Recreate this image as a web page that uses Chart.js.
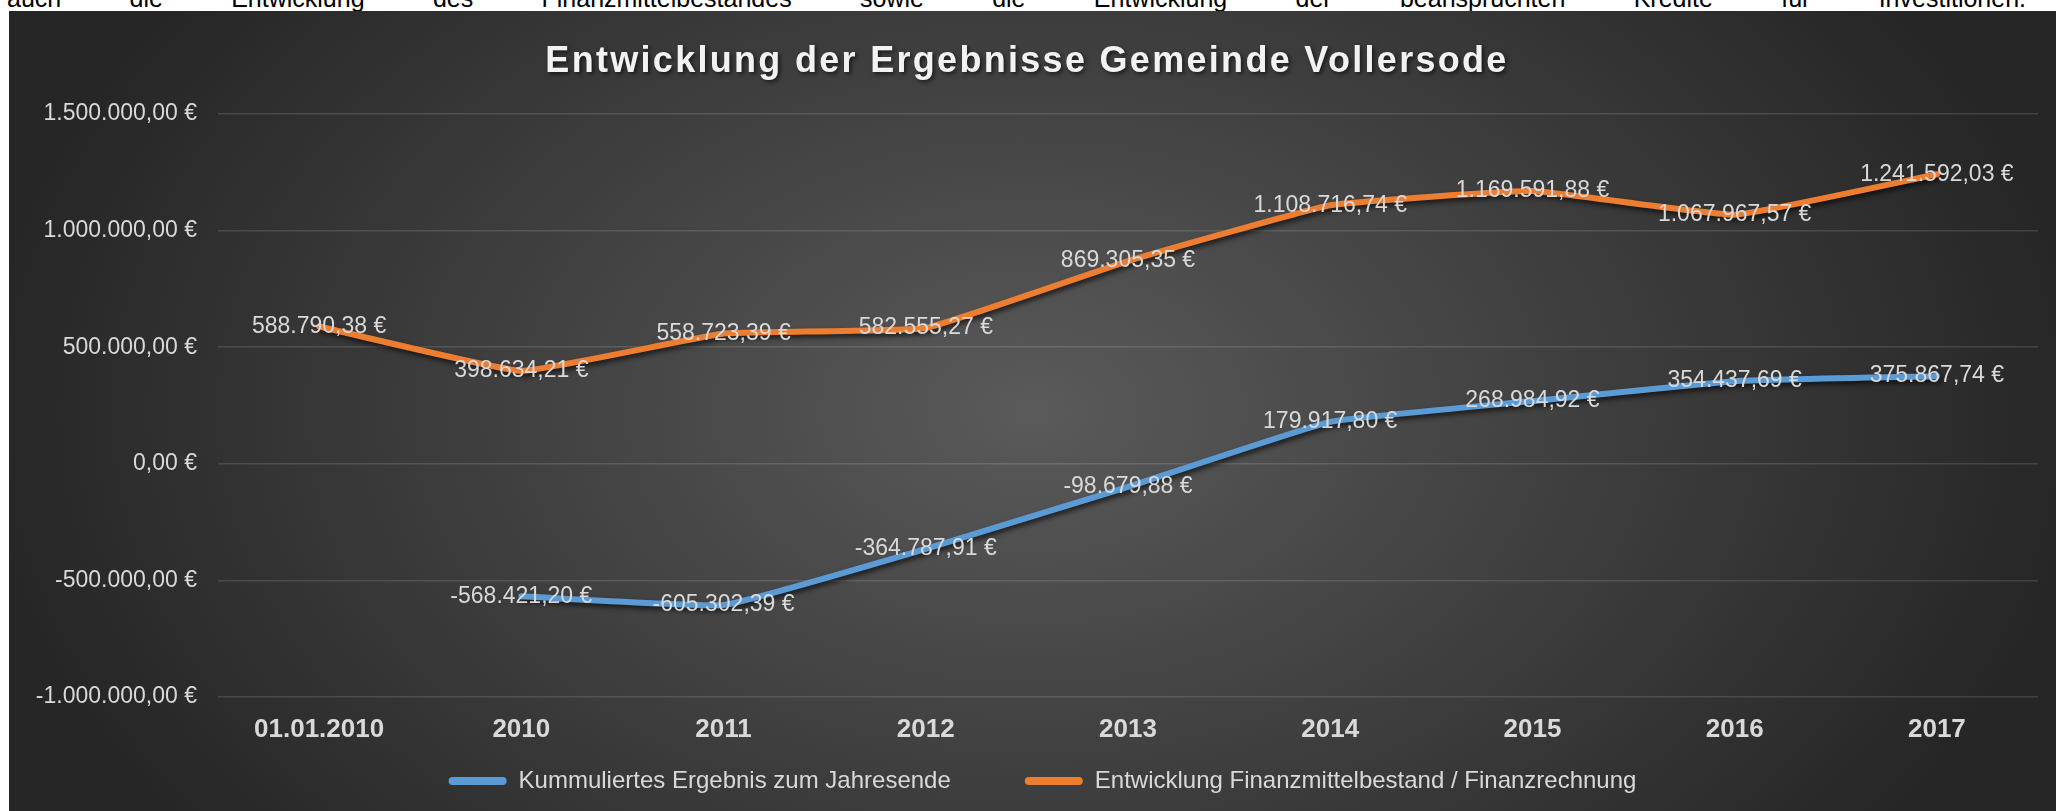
<!DOCTYPE html>
<html>
<head>
<meta charset="utf-8">
<script src="https://cdn.jsdelivr.net/npm/chart.js@4.4.1/dist/chart.umd.min.js"></script>
<style>
html, body { margin: 0; padding: 0; width: 2056px; height: 811px; overflow: hidden; background: #fff; }
#intro {
  position: absolute; left: 7px; top: -14px; width: 2019px;
  font: 25px/25px 'Liberation Sans', Arial, sans-serif; color: #000;
  text-align: justify; text-align-last: justify;
}
#box {
  position: absolute; left: 9px; top: 11px; width: 2047px; height: 800px;
  background: radial-gradient(ellipse 1050px 700px at 50% 50%, #5a5a5a 0%, #262626 100%);
}
#chart { position: absolute; left: 0; top: 0; }
</style>
</head>
<body>
<div id="intro">auch die Entwicklung des Finanzmittelbestandes sowie die Entwicklung der beanspruchten Kredite für Investitionen.</div>
<div id="box"><canvas id="chart" width="2067" height="800"></canvas></div>
<script>
const titleText = 'Entwicklung der Ergebnisse Gemeinde Vollersode';
const categories = ['01.01.2010', '2010', '2011', '2012', '2013', '2014', '2015', '2016', '2017'];
const ergebnis = [null, -568421.20, -605302.39, -364787.91, -98679.88, 179917.80, 268984.92, 354437.69, 375867.74];
const finanzmittel = [588790.38, 398634.21, 558723.39, 582555.27, 869305.35, 1108716.74, 1169591.88, 1067967.57, 1241592.03];
const yTicks = [-1000000, -500000, 0, 500000, 1000000, 1500000];

const textColor = '#d9d9d9';
const fontFamily = "'Liberation Sans', Arial, sans-serif";

// 1234567.8 -> "1.234.567,80 €"
function euro(v) {
  const neg = v < 0;
  const parts = Math.abs(v).toFixed(2).split('.');
  const int = parts[0].replace(/\B(?=(\d{3})+(?!\d))/g, '.');
  return (neg ? '-' : '') + int + ',' + parts[1] + ' €';
}

// title with letter spacing + shadow
const titlePlugin = {
  id: 'titel',
  afterDraw(chart) {
    const ctx = chart.ctx;
    ctx.save();
    ctx.font = 'bold 36px ' + fontFamily;
    ctx.letterSpacing = '2.3px';
    ctx.fillStyle = '#f2f2f2';
    ctx.textAlign = 'center';
    ctx.textBaseline = 'alphabetic';
    ctx.shadowColor = 'rgba(0,0,0,0.6)';
    ctx.shadowBlur = 4;
    ctx.shadowOffsetX = 2;
    ctx.shadowOffsetY = 2;
    ctx.fillText(titleText, 1018, 61);
    ctx.restore();
  }
};

// drop shadow under the lines
const shadowPlugin = {
  id: 'linienSchatten',
  beforeDatasetDraw(chart) {
    const ctx = chart.ctx;
    ctx.save();
    ctx.shadowColor = 'rgba(0,0,0,0.65)';
    ctx.shadowBlur = 5;
    ctx.shadowOffsetX = 2;
    ctx.shadowOffsetY = 3;
  },
  afterDatasetDraw(chart) {
    chart.ctx.restore();
  }
};

// value labels centred on the points
const labelPlugin = {
  id: 'werte',
  afterDatasetsDraw(chart) {
    const ctx = chart.ctx;
    ctx.save();
    ctx.font = '23px ' + fontFamily;
    ctx.fillStyle = textColor;
    ctx.textAlign = 'center';
    ctx.textBaseline = 'middle';
    chart.data.datasets.forEach((ds, i) => {
      const meta = chart.getDatasetMeta(i);
      meta.data.forEach((pt, j) => {
        const v = ds.data[j];
        if (v === null || v === undefined) return;
        ctx.fillText(euro(v), pt.x, pt.y);
      });
    });
    ctx.restore();
  }
};

const chart = new Chart(document.getElementById('chart'), {
  type: 'line',
  data: {
    labels: categories,
    datasets: [{
      label: 'Kummuliertes Ergebnis zum Jahresende',
      data: ergebnis,
      borderColor: '#5b9bd5',
      backgroundColor: '#5b9bd5',
      borderWidth: 6,
      pointRadius: 0,
      tension: 0.1,
      borderJoinStyle: 'round',
      borderCapStyle: 'round'
    }, {
      label: 'Entwicklung Finanzmittelbestand / Finanzrechnung',
      data: finanzmittel,
      borderColor: '#ed7d31',
      backgroundColor: '#ed7d31',
      borderWidth: 6,
      pointRadius: 0,
      tension: 0.1,
      borderJoinStyle: 'round',
      borderCapStyle: 'round'
    }]
  },
  options: {
    responsive: false,
    animation: false,
    layout: { padding: { top: 103, right: 0, left: 0, bottom: 8 } },
    scales: {
      x: {
        offset: true,
        grid: { display: false, drawTicks: false },
        border: { display: false },
        ticks: {
          color: textColor,
          padding: 17,
          maxRotation: 0,
          autoSkip: false,
          font: { family: fontFamily, size: 26, weight: 'bold' }
        },
        afterFit(scale) { scale.height = 46; }
      },
      y: {
        min: yTicks[0],
        max: yTicks[yTicks.length - 1],
        grid: { color: 'rgba(255,255,255,0.13)', lineWidth: 1.5, drawTicks: false },
        border: { display: false },
        ticks: {
          stepSize: yTicks[1] - yTicks[0],
          color: textColor,
          padding: 21,
          font: { family: fontFamily, size: 23 },
          callback: v => euro(v)
        },
        afterFit(scale) { scale.width = 209; }
      },
      // empty right margin (keeps the legend centred on the whole box)
      rand: {
        position: 'right',
        grid: { display: false, drawTicks: false },
        border: { display: false },
        ticks: { display: false },
        afterFit(scale) { scale.width = 38; }
      }
    },
    plugins: {
      title: { display: false },
      tooltip: { enabled: false },
      legend: {
        position: 'bottom',
        labels: {
          color: textColor,
          font: { family: fontFamily, size: 24 },
          boxWidth: 58,
          boxHeight: 8,
          padding: 26,
          useBorderRadius: true,
          borderRadius: 4,
          generateLabels(c) {
            const items = Chart.defaults.plugins.legend.labels.generateLabels(c);
            items.forEach((it, i) => {
              it.lineWidth = 0;
              it.fillStyle = it.strokeStyle;
              it.borderRadius = 4;
              // wider gap between the two entries
              if (i === 0) it.text += '\u2003\u2003';
            });
            return items;
          }
        }
      }
    }
  },
  plugins: [titlePlugin, shadowPlugin, labelPlugin]
});
</script>
</body>
</html>
